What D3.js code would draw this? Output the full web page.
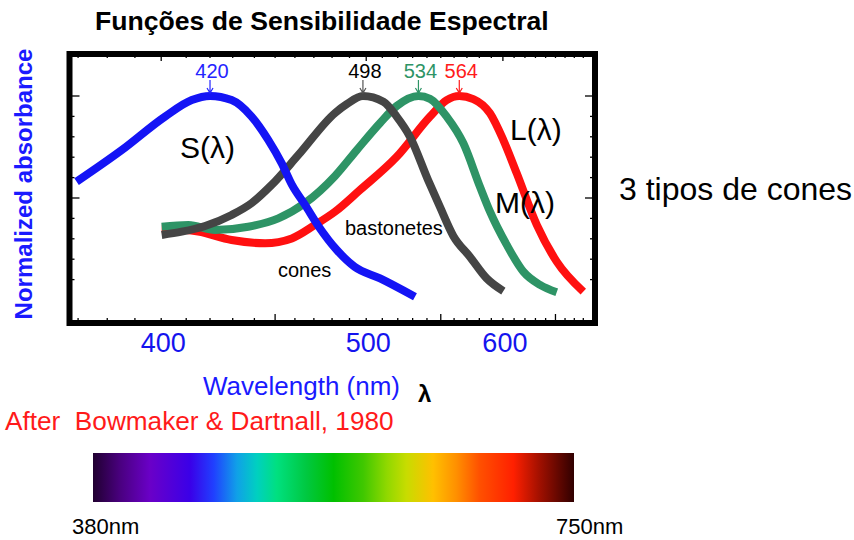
<!DOCTYPE html>
<html>
<head>
<meta charset="utf-8">
<script src="https://cdn.jsdelivr.net/npm/d3@7"></script>
<style>
	body { margin: 0; background: #fff; }
	svg { display: block; }
	text { font-family: "Liberation Sans", Arial, sans-serif; }
</style>
</head>
<body>
<div id="chart"></div>
<script>
// absorbance curves (wavelength in nm, normalized absorbance)
var sWave = [369.5, 385.2, 401.5, 412.3, 420, 429.5, 438.7, 446.7, 453.3, 458.5, 465.3, 472.4, 482.7, 493.0, 508.6, 531.6];
var sAbs  = [0.58, 0.735, 0.899, 0.98, 1.0, 0.98, 0.899, 0.784, 0.67, 0.564, 0.466, 0.363, 0.245, 0.163, 0.106, 0.016];

var rodWave = [400.2, 408.2, 417.9, 429.5, 438.7, 448.3, 461.8, 481.7, 488.4, 498, 510.7, 519.3, 528.2, 540.8, 549.4, 559.4, 572.5, 586.1, 600.4];
var rodAbs  = [0.319, 0.335, 0.363, 0.417, 0.475, 0.564, 0.711, 0.917, 0.96, 1.0, 0.972, 0.899, 0.8, 0.588, 0.456, 0.314, 0.211, 0.106, 0.044];

var mWave = [400.2, 410.9, 422.2, 437.1, 451.6, 465.3, 481.7, 494.3, 508.6, 519.3, 534, 542.2, 554.4, 567.2, 580.6, 588.9, 603.4, 618.5, 634.5, 651.3];
var mAbs  = [0.359, 0.368, 0.343, 0.359, 0.4, 0.475, 0.608, 0.735, 0.868, 0.951, 1.0, 0.986, 0.899, 0.768, 0.554, 0.433, 0.27, 0.139, 0.074, 0.038];

var lWave = [400.2, 415.0, 429.5, 445.1, 458.4, 470.6, 481.7, 496.2, 519.3, 542.2, 554.4, 564, 575.1, 588.9, 600.4, 612.4, 631.3, 651.3, 680.0];
var lAbs  = [0.35, 0.335, 0.294, 0.278, 0.302, 0.368, 0.433, 0.539, 0.702, 0.899, 0.98, 1.0, 0.985, 0.915, 0.784, 0.621, 0.368, 0.188, 0.041];

// peak markers
var peakLabels = [420, 498, 534, 564];
var peakColors = ['#2424ff', '#000000', '#2e9466', '#ff1a1a'];
var arrowColors = ['#2424ff', '#555555', '#2e9466', '#ff1a1a'];

// x tick labels
var xTickLabels = [400, 500, 600];
var yTicks = [0.1, 0.2, 0.3, 0.4, 0.5, 0.6, 0.7, 0.8, 0.9, 1.0];

// visible spectrum bar
var spectrumEnds = ['380nm', '750nm'];
var stopOffsets = [0, 0.057, 0.119, 0.202, 0.251, 0.299, 0.341, 0.382, 0.444, 0.5, 0.562, 0.611, 0.652, 0.707, 0.755, 0.804, 0.874, 0.929, 1];
var stopColors = ['#200030', '#4a0080', '#6a00c8', '#3a00e8', '#2040ff', '#10a0e8', '#00d0c0', '#00e080', '#00c840', '#00c000',
	'#40c800', '#90d800', '#c8dc00', '#ffc000', '#ff9000', '#ff5000', '#ff2000', '#a01000', '#300000'];

var params = {};

function defineParams(){
	params.width = 854;
	params.height = 540;
	params.frame = {left: 69.5, top: 54, right: 595, bottom: 323};
	params.lineWidth = 8;

	// the original figure is drawn on a wavenumber (1/lambda) axis
	params.wn = d3.scaleLinear()
		.domain([1/400, 1/600])
		.range([161.2, 502.9]);
	params.x = function(l){ return params.wn(1/l); };

	params.y = d3.scaleLinear()
		.domain([0, 1])
		.range([300, 96]);
}

function drawFrame(svg){
	var f = params.frame;

	// ticks on the four sides
	var ticks = svg.append('g').attr('stroke', '#000').attr('stroke-width', 1.3);
	yTicks.forEach(function(v){
		var len = (v == 0.5 || v == 1.0) ? 10 : 5;
		var yy = params.y(v);
		ticks.append('line').attr('x1', f.left).attr('x2', f.left + len).attr('y1', yy).attr('y2', yy);
		ticks.append('line').attr('x1', f.right).attr('x2', f.right - len).attr('y1', yy).attr('y2', yy);
	});
	d3.range(370, 700, 10).forEach(function(l){
		var xx = params.x(l);
		if (xx < f.left + 4 || xx > f.right - 4) return;
		var len = (l % 100 == 50) ? 9 : 5;
		ticks.append('line').attr('x1', xx).attr('x2', xx).attr('y1', f.bottom).attr('y2', f.bottom - len);
		var tlen = (l % 100 == 0) ? 7 : 4;
		ticks.append('line').attr('x1', xx).attr('x2', xx).attr('y1', f.top).attr('y2', f.top + tlen);
	});

	svg.append('rect')
		.attr('x', f.left)
		.attr('y', f.top)
		.attr('width', f.right - f.left)
		.attr('height', f.bottom - f.top)
		.attr('fill', 'none')
		.attr('stroke', '#000')
		.attr('stroke-width', 6);
}

function drawCurves(svg){
	var line = d3.line()
		.x(function(d){ return params.x(d[0]); })
		.y(function(d){ return params.y(d[1]); })
		.curve(d3.curveMonotoneX);

	var series = [
		{wave: lWave, abs: lAbs, color: '#ff1010'},
		{wave: mWave, abs: mAbs, color: '#2e9466'},
		{wave: rodWave, abs: rodAbs, color: '#454545'},
		{wave: sWave, abs: sAbs, color: '#1414f5'}
	];

	series.forEach(function(s){
		svg.append('path')
			.datum(d3.zip(s.wave, s.abs))
			.attr('d', line)
			.attr('fill', 'none')
			.attr('stroke', s.color)
			.attr('stroke-width', params.lineWidth)
			.attr('stroke-linejoin', 'round');
	});

	// peak arrows and labels
	peakLabels.forEach(function(p, i){
		var xx = params.x(p);
		svg.append('path')
			.attr('d', 'M' + xx + ',80 L' + xx + ',93 M' + (xx - 3) + ',88 L' + xx + ',93 L' + (xx + 3) + ',88')
			.attr('fill', 'none')
			.attr('stroke', arrowColors[i])
			.attr('stroke-width', 1.2);
		svg.append('text')
			.attr('x', xx + 2)
			.attr('y', 78)
			.attr('text-anchor', 'middle')
			.attr('font-size', 20)
			.attr('fill', peakColors[i])
			.text(p);
	});
}

function drawTexts(svg){
	svg.append('text')
		.attr('x', 95).attr('y', 30)
		.attr('font-size', 26.6).attr('font-weight', 'bold')
		.text('Funções de Sensibilidade Espectral');

	svg.append('text')
		.attr('transform', 'translate(32,184) rotate(-90)')
		.attr('text-anchor', 'middle')
		.attr('font-size', 24).attr('font-weight', 'bold')
		.attr('fill', '#1a1aff')
		.text('Normalized absorbance');

	xTickLabels.forEach(function(v){
		svg.append('text')
			.attr('x', params.x(v) + 2).attr('y', 352)
			.attr('text-anchor', 'middle')
			.attr('font-size', 27)
			.attr('fill', '#1414ee')
			.text(v);
	});

	svg.append('text')
		.attr('x', 203).attr('y', 395)
		.attr('font-size', 26).attr('fill', '#1a1aff')
		.text('Wavelength (nm)');
	svg.append('text')
		.attr('x', 418).attr('y', 402)
		.attr('font-size', 24).attr('font-weight', 'bold')
		.text('λ');

	svg.append('text')
		.attr('x', 5).attr('y', 430)
		.attr('font-size', 26.2).attr('fill', '#ff1a1a')
		.attr('xml:space', 'preserve')
		.style('white-space', 'pre')
		.text('After  Bowmaker & Dartnall, 1980');

	var curveLabels = [
		{t: 'S(λ)', x: 180, y: 158, s: 30},
		{t: 'L(λ)', x: 510, y: 140, s: 30},
		{t: 'M(λ)', x: 495, y: 213, s: 30},
		{t: 'bastonetes', x: 345, y: 235, s: 20},
		{t: 'cones', x: 278, y: 277, s: 20},
		{t: '3 tipos de cones', x: 619, y: 200, s: 32}
	];
	curveLabels.forEach(function(c){
		svg.append('text')
			.attr('x', c.x).attr('y', c.y)
			.attr('font-size', c.s)
			.text(c.t);
	});
}

function drawSpectrum(svg){
	var grad = svg.append('defs').append('linearGradient')
		.attr('id', 'spectrum')
		.attr('x1', '0%').attr('x2', '100%')
		.attr('y1', '0%').attr('y2', '0%');
	stopOffsets.forEach(function(o, i){
		grad.append('stop')
			.attr('offset', o)
			.attr('stop-color', stopColors[i]);
	});

	svg.append('rect')
		.attr('x', 93).attr('y', 453)
		.attr('width', 481).attr('height', 49)
		.attr('fill', 'url(#spectrum)');

	svg.append('text')
		.attr('x', 72).attr('y', 534)
		.attr('font-size', 22)
		.text(spectrumEnds[0]);
	svg.append('text')
		.attr('x', 556).attr('y', 534)
		.attr('font-size', 22)
		.text(spectrumEnds[1]);
}

function init(){
	defineParams();

	var svg = d3.select('#chart')
		.append('svg')
			.attr('width', params.width)
			.attr('height', params.height);

	drawFrame(svg);
	drawCurves(svg);
	drawTexts(svg);
	drawSpectrum(svg);
}

init();
</script>
</body>
</html>
